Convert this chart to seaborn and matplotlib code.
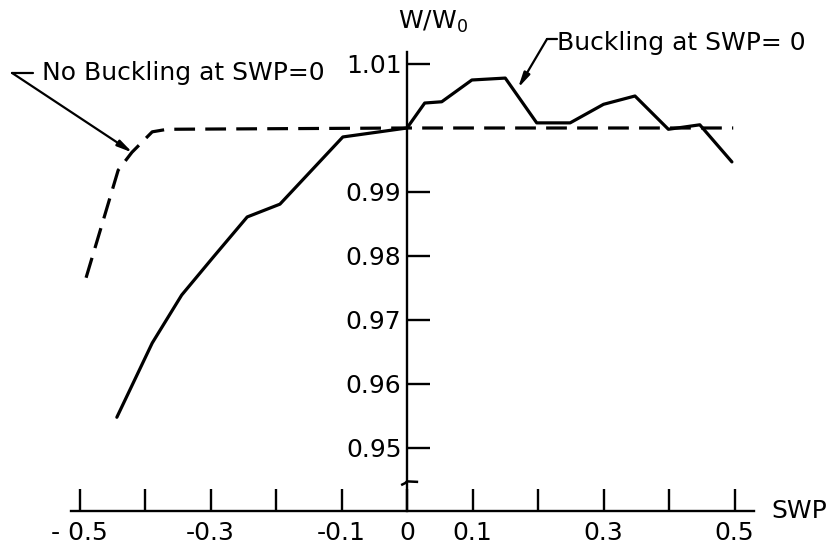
import matplotlib
matplotlib.use("Agg")
import matplotlib.pyplot as plt
import numpy as np
import pandas as pd
import seaborn as sns

# Weight ratio W/W0 against sweep parameter SWP
swp_buckling = [-0.443, -0.389, -0.344, -0.296, -0.244, -0.194, -0.098, 0.0,
                0.027, 0.053, 0.099, 0.150, 0.198, 0.249, 0.300, 0.348,
                0.399, 0.447, 0.496]
w_buckling = [0.9548, 0.9664, 0.9739, 0.9798, 0.9861, 0.9881, 0.9986, 1.0000,
              1.0039, 1.0041, 1.0075, 1.0078, 1.0008, 1.0008, 1.0037, 1.0050,
              0.9998, 1.0005, 0.9947]

swp_no_buckling = [-0.490, -0.464, -0.441, -0.420, -0.389, -0.366, 0.0, 0.498]
w_no_buckling = [0.9766, 0.9855, 0.9934, 0.9962, 0.9994, 0.9998, 1.0000, 1.0000]

label_buckling = "Buckling at SWP= 0"
label_no_buckling = "No Buckling at SWP=0"

x_ticks = [-0.5, -0.4, -0.3, -0.2, -0.1, 0.0, 0.1, 0.2, 0.3, 0.4, 0.5]
x_tick_labels = ["- 0.5", "", "-0.3", "", "-0.1", "0", "0.1", "", "0.3", "", "0.5"]
y_ticks = [0.95, 0.96, 0.97, 0.98, 0.99, 1.01]
y_tick_labels = ["0.95", "0.96", "0.97", "0.98", "0.99", "1.01"]

df = pd.concat([
    pd.DataFrame({"SWP": swp_buckling, "W": w_buckling, "case": label_buckling}),
    pd.DataFrame({"SWP": swp_no_buckling, "W": w_no_buckling, "case": label_no_buckling}),
], ignore_index=True)

sns.set_style("white")
plt.rcParams["font.family"] = ["DejaVu Sans"]
plt.rcParams["mathtext.default"] = "regular"
plt.rcParams["text.color"] = "black"

fig = plt.figure(figsize=(8.39, 5.53), dpi=100)
ax = fig.add_axes([0, 0, 1, 1])

x_floor = 0.94016  # level of the SWP axis (broken W axis below 0.95)
fs = 18

sns.lineplot(data=df, x="SWP", y="W", style="case",
             dashes={label_buckling: "", label_no_buckling: (6.5, 3.2)},
             color="black", linewidth=2.3, legend=False, ax=ax, estimator=None,
             sort=False)

ax.set_xlim(-0.6214, 0.6595)
ax.set_ylim(0.93359, 1.02)

# Axes drawn as crossing lines: W axis at SWP=0, SWP axis along the bottom
for side in ("top", "right"):
    ax.spines[side].set_visible(False)
ax.spines["left"].set_position(("data", 0.0))
ax.spines["bottom"].set_position(("data", x_floor))
ax.spines["left"].set_bounds(x_floor, 1.0119)
ax.spines["bottom"].set_bounds(-0.513, 0.530)
for side in ("left", "bottom"):
    ax.spines[side].set_linewidth(1.7)
    ax.spines[side].set_color("black")

ax.set_xticks(x_ticks)
ax.set_xticklabels(x_tick_labels)
ax.set_yticks(y_ticks)
ax.set_yticklabels(y_tick_labels)
ax.tick_params(axis="x", direction="in", length=16, width=1.7, pad=7,
               labelsize=fs, colors="black", bottom=True)
ax.tick_params(axis="y", direction="in", length=16.5, width=1.7, pad=4,
               labelsize=fs, colors="black", left=True)
ax.set_xlabel("")
ax.set_ylabel("")

# Break mark on the W axis
ax.plot([-0.009, -0.003, 0.0, 0.017], [0.94420, 0.94450, 0.94478, 0.94470],
        color="black", linewidth=1.8, solid_capstyle="butt")

# Axis titles
ax.text(0.040, 1.01656, "W/W$_0$", fontsize=fs, ha="center", va="center")
ax.text(0.557, x_floor, "SWP", fontsize=fs, ha="left", va="center")

# Curve labels with leader arrows
arrow = dict(arrowstyle="-|>,head_length=0.9,head_width=0.2",
             color="black", linewidth=1.6, shrinkA=0, shrinkB=0)

ax.text(-0.557, 1.0086, label_no_buckling, fontsize=fs, ha="left", va="center")
ax.plot([-0.571, -0.603], [1.0086, 1.0086], color="black", linewidth=1.6)
ax.annotate("", xy=(-0.419, 0.99615), xytext=(-0.603, 1.0086),
            arrowprops=arrow)

ax.text(0.229, 1.01328, label_buckling, fontsize=fs, ha="left", va="center")
ax.plot([0.229, 0.2137], [1.0139, 1.0139], color="black", linewidth=1.6)
ax.annotate("", xy=(0.1695, 1.00625), xytext=(0.2137, 1.0139),
            arrowprops=arrow)

fig.savefig("out.png", dpi=100)
